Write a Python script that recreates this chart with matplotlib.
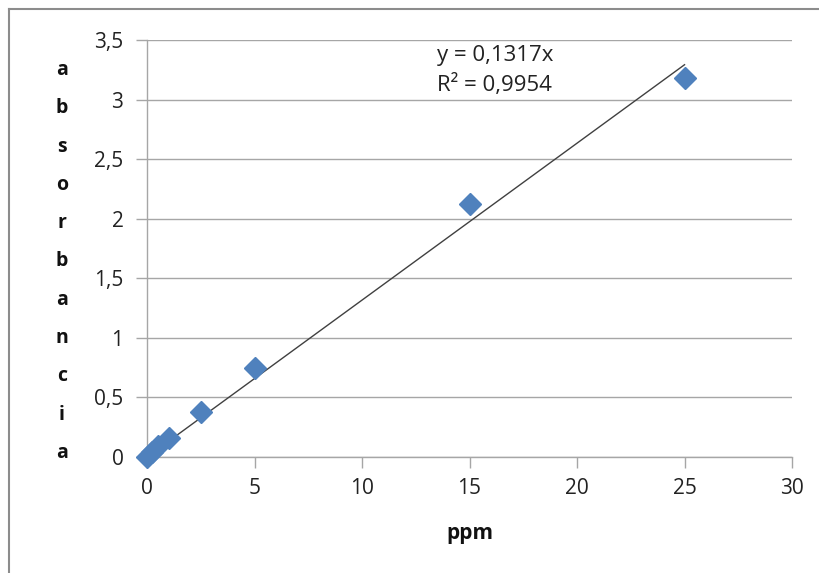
import matplotlib
matplotlib.use("Agg")
import matplotlib.pyplot as plt
from matplotlib.ticker import FuncFormatter, MultipleLocator
from matplotlib.lines import Line2D

plt.rcParams['font.family'] = ['Open Sans', 'DejaVu Sans']

# calibration data
ppm = [0, 0.25, 0.5, 1, 2.5, 5, 15, 25]
absorbancia = [0, 0.04, 0.09, 0.16, 0.38, 0.75, 2.12, 3.18]
slope = 0.1317
r2 = 0.9954
trend_x = [0, 25]

ylabel_letters = list("absorbancia")


def comma_fmt(v, pos):
    s = f"{v:g}"
    return s.replace(".", ",")


fig = plt.figure(figsize=(8.2, 5.73), dpi=100)
ax = fig.add_axes([0.1793, 0.2024, 0.9659 - 0.1793, 0.9302 - 0.2024])

grid_c = "#a6a6a6"
ax.yaxis.grid(True, color=grid_c, lw=1)
ax.set_axisbelow(True)

ax.plot(trend_x, [slope * x for x in trend_x], color="#404040", lw=1, zorder=2)
ax.plot(ppm, absorbancia, ls="none", marker="D", markersize=11,
        color="#4f81bd", markeredgecolor="#4f81bd", zorder=3, clip_on=False)

ax.set_xlim(0, 30)
ax.set_ylim(0, 3.5)
ax.xaxis.set_major_locator(MultipleLocator(5))
ax.yaxis.set_major_locator(MultipleLocator(0.5))
ax.xaxis.set_major_formatter(FuncFormatter(comma_fmt))
ax.yaxis.set_major_formatter(FuncFormatter(comma_fmt))

for side in ("top", "right"):
    ax.spines[side].set_visible(False)
for side in ("left", "bottom"):
    ax.spines[side].set_color(grid_c)
    ax.spines[side].set_linewidth(1)

ax.tick_params(axis="both", direction="out", length=8, width=1, color=grid_c,
               labelsize=15, labelcolor="#222222")
ax.tick_params(axis="x", pad=7)
ax.tick_params(axis="y", pad=9)

ax.text(0.4496, 0.964, "y = 0,1317x", transform=ax.transAxes,
        fontsize=16, color="#222222", va="center", ha="left")
ax.text(0.4496, 0.892, f"R² = {r2:g}".replace(".", ","), transform=ax.transAxes,
        fontsize=16, color="#222222", va="center", ha="left")

# vertical stacked y label
top_px, step_px = 70, 38.3
for i, ch in enumerate(ylabel_letters):
    fig.text(62 / 820, 1 - (top_px + i * step_px) / 573, ch, fontsize=14,
             fontweight="bold", ha="center", va="center", color="#111111")

fig.text(470 / 820, 1 - 533 / 573, "ppm", fontsize=15, fontweight="bold",
         ha="center", va="center", color="#111111")

# outer chart border (only left/top visible in the crop)
border_c = "#8c8c8c"
fig.add_artist(Line2D([8.5 / 820, 8.5 / 820], [0, 1 - 9 / 573], color=border_c,
                      lw=1.5, transform=fig.transFigure))
fig.add_artist(Line2D([8.5 / 820, 1], [1 - 9 / 573, 1 - 9 / 573], color=border_c,
                      lw=1.5, transform=fig.transFigure))

fig.savefig("out.png", dpi=100)
